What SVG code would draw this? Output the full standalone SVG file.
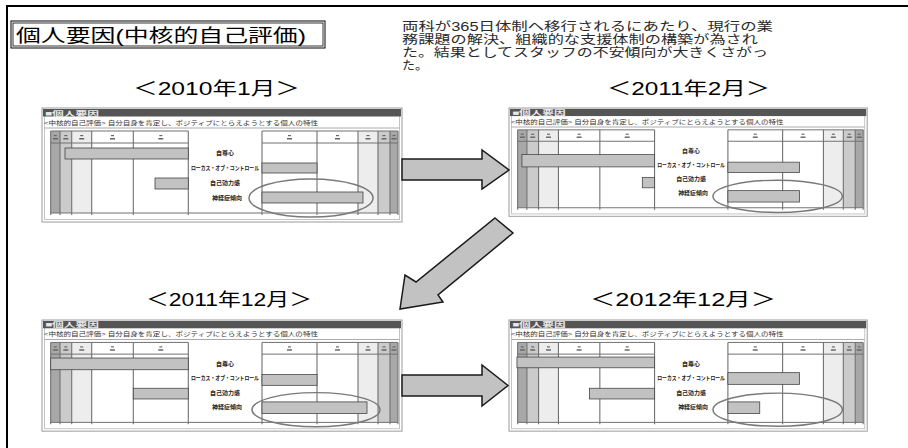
<svg xmlns="http://www.w3.org/2000/svg" xmlns:xlink="http://www.w3.org/1999/xlink" width="908" height="448" viewBox="0 0 908 448">
<style>
  .jp { font-family: "Liberation Sans", "Noto Sans CJK JP", sans-serif; }
  .title { font-size: 18px; fill: #000; }
  .date { font-size: 18px; fill: #000; }
  .para { font-size: 12px; fill: #2a2a2a; }
  .hdr { font-size: 7px; font-weight: bold; fill: #e8e8e8; }
  .sub { font-size: 6px; fill: #333; }
  .lbl { font-size: 6px; font-weight: bold; fill: #222; text-anchor: middle; }
  .vl { stroke: #707070; stroke-width: 1.1; }
  .hl { stroke: #707070; stroke-width: 1; }
  .bar { fill: #c2c2c2; stroke: #444; stroke-width: 0.8; }
  .ell { fill: none; stroke: #7a7a7a; stroke-width: 1.5; }
  .tick { fill: #666; }
  .arrow { fill: #c2c2c2; stroke: #1a1a1a; stroke-width: 1.5; stroke-linejoin: miter; }
</style>
<defs>
  <g id="chartFrame">
    <rect x="0" y="0" width="360" height="114" fill="#fff" stroke="#9a9a9a" stroke-width="1"/>
    <rect x="2.5" y="2.5" width="355" height="109" fill="none" stroke="#c4c4c4" stroke-width="1"/>
    <rect x="1" y="1" width="358" height="7.5" fill="#555"/>
    <text x="3" y="7.6" class="jp hdr" textLength="54" lengthAdjust="spacingAndGlyphs">■個人要因</text>
    <text x="2" y="16.5" class="jp sub" textLength="274" lengthAdjust="spacingAndGlyphs">&lt;中核的自己評価&gt; 自分自身を肯定し、ポジティブにとらえようとする個人の特性</text>
    <line x1="2.5" y1="20" x2="357.5" y2="20" stroke="#aaa" stroke-width="1"/>
    <rect x="8.7" y="23" width="9.3" height="82" fill="#a8a8a8"/>
    <rect x="18" y="23" width="11.7" height="82" fill="#cbcbcb"/>
    <rect x="29.7" y="23" width="20" height="82" fill="#ededed"/>
    <rect x="316" y="23" width="20" height="82" fill="#ededed"/>
    <rect x="336" y="23" width="12" height="82" fill="#cbcbcb"/>
    <rect x="348" y="23" width="8" height="82" fill="#a8a8a8"/>
    <line class="hl" x1="8.7" y1="23" x2="146.3" y2="23"/>
    <line class="hl" x1="220" y1="23" x2="356" y2="23"/>
    <line class="hl" x1="8.7" y1="35" x2="146.3" y2="35"/>
    <line class="hl" x1="220" y1="35" x2="356" y2="35"/>
    <line class="hl" x1="8.7" y1="105" x2="356" y2="105"/>
    <line class="vl" x1="8.7" y1="23" x2="8.7" y2="107"/>
    <line class="vl" x1="18" y1="23" x2="18" y2="107"/>
    <line class="vl" x1="29.7" y1="23" x2="29.7" y2="107"/>
    <line class="vl" x1="49.7" y1="23" x2="49.7" y2="107"/>
    <line class="vl" x1="91.3" y1="23" x2="91.3" y2="107"/>
    <line class="vl" x1="146.3" y1="23" x2="146.3" y2="107"/>
    <line class="vl" x1="220" y1="23" x2="220" y2="107"/>
    <line class="vl" x1="275" y1="23" x2="275" y2="107"/>
    <line class="vl" x1="316" y1="23" x2="316" y2="107"/>
    <line class="vl" x1="336" y1="23" x2="336" y2="107"/>
    <line class="vl" x1="348" y1="23" x2="348" y2="107"/>
    <line class="vl" x1="356" y1="23" x2="356" y2="107"/>
    <g class="tick">
      <rect x="11.8" y="27" width="3" height="1.2"/><rect x="11" y="30" width="5" height="1.5"/>
      <rect x="22.3" y="27" width="3" height="1.2"/><rect x="21.3" y="30" width="5" height="1.5"/>
      <rect x="38.2" y="27" width="3" height="1.2"/><rect x="37.2" y="30" width="5" height="1.5"/>
      <rect x="69" y="27" width="3" height="1.2"/><rect x="68" y="30" width="5" height="1.5"/>
      <rect x="117.3" y="27" width="3" height="1.2"/><rect x="116.3" y="30" width="5" height="1.5"/>
      <rect x="246" y="27" width="3" height="1.2"/><rect x="245" y="30" width="5" height="1.5"/>
      <rect x="294" y="27" width="3" height="1.2"/><rect x="293" y="30" width="5" height="1.5"/>
      <rect x="324.5" y="27" width="3" height="1.2"/><rect x="323.5" y="30" width="5" height="1.5"/>
      <rect x="340.5" y="27" width="3" height="1.2"/><rect x="339.5" y="30" width="5" height="1.5"/>
      <rect x="350.5" y="27" width="3" height="1.2"/><rect x="349.5" y="30" width="5" height="1.5"/>
    </g>
    <text class="jp lbl" x="183" y="47">自尊心</text>
    <text class="jp lbl" x="183" y="62" textLength="68" lengthAdjust="spacingAndGlyphs">ローカス・オブ・コントロール</text>
    <text class="jp lbl" x="183" y="77">自己効力感</text>
    <text class="jp lbl" x="185" y="91.5">神経症傾向</text>
  </g>
</defs>

<path d="M7,448 V6 H908" fill="none" stroke="#000" stroke-width="2"/>

<g id="title">
  <rect x="11" y="21" width="314" height="27" fill="#fff" stroke="#000" stroke-width="1"/>
  <rect x="13" y="23" width="310" height="23" fill="none" stroke="#000" stroke-width="0.8"/>
  <text class="jp title" x="16" y="42" textLength="290" lengthAdjust="spacingAndGlyphs">個人要因(中核的自己評価)</text>
</g>

<g id="note">
  <text class="jp para" x="402" y="30.5" textLength="371" lengthAdjust="spacingAndGlyphs">両科が365日体制へ移行されるにあたり、現行の業</text>
  <text class="jp para" x="402" y="43.5" textLength="356" lengthAdjust="spacingAndGlyphs">務課題の解決、組織的な支援体制の構築が為され</text>
  <text class="jp para" x="402" y="56.5" textLength="366" lengthAdjust="spacingAndGlyphs">た。結果としてスタッフの不安傾向が大きくさがっ</text>
  <text class="jp para" x="402" y="69.5" textLength="26" lengthAdjust="spacingAndGlyphs">た。</text>
</g>

<g id="label-2010-01"><text class="jp date" x="133" y="95" textLength="167" lengthAdjust="spacingAndGlyphs">＜2010年1月＞</text></g>
<g id="label-2011-02"><text class="jp date" x="607" y="95" textLength="163" lengthAdjust="spacingAndGlyphs">＜2011年2月＞</text></g>
<g id="label-2011-12"><text class="jp date" x="146" y="306" textLength="166" lengthAdjust="spacingAndGlyphs">＜2011年12月＞</text></g>
<g id="label-2012-12"><text class="jp date" x="590" y="306" textLength="186" lengthAdjust="spacingAndGlyphs">＜2012年12月＞</text></g>

<g id="chart-2010-01" transform="translate(42,108)">
  <use xlink:href="#chartFrame" href="#chartFrame"/>
  <rect class="bar" x="23" y="40" width="123.3" height="11"/>
  <rect class="bar" x="220" y="55" width="55" height="10"/>
  <rect class="bar" x="113" y="70" width="33.3" height="11"/>
  <rect class="bar" x="220" y="84" width="101" height="11"/>
  <ellipse class="ell" cx="269" cy="90" rx="62" ry="19"/>
</g>

<g id="chart-2011-02" transform="translate(509,108) scale(0.995,0.95)">
  <use xlink:href="#chartFrame" href="#chartFrame"/>
  <rect class="bar" x="13" y="49" width="133.3" height="13"/>
  <rect class="bar" x="220" y="57" width="72" height="11"/>
  <rect class="bar" x="134" y="73" width="12.3" height="11"/>
  <rect class="bar" x="220" y="87" width="72" height="12"/>
  <ellipse class="ell" cx="270" cy="93" rx="65" ry="17"/>
</g>

<g id="chart-2011-12" transform="translate(42,320) scale(1,0.975)">
  <use xlink:href="#chartFrame" href="#chartFrame"/>
  <rect class="bar" x="8.7" y="39" width="137.6" height="12"/>
  <rect class="bar" x="220" y="56" width="55" height="11"/>
  <rect class="bar" x="91.3" y="70" width="55" height="11"/>
  <rect class="bar" x="220" y="84" width="105" height="12"/>
  <ellipse class="ell" cx="274" cy="92" rx="64" ry="17.5"/>
</g>

<g id="chart-2012-12" transform="translate(509,320) scale(0.995,0.975)">
  <use xlink:href="#chartFrame" href="#chartFrame"/>
  <rect class="bar" x="8" y="38" width="138.3" height="11"/>
  <rect class="bar" x="220" y="54" width="72" height="12"/>
  <rect class="bar" x="81" y="70" width="65.3" height="11"/>
  <rect class="bar" x="220" y="84" width="32" height="12"/>
  <ellipse class="ell" cx="270" cy="92" rx="65" ry="17"/>
</g>

<g id="connectors">
  <polygon class="arrow" points="402,159 482,159 482,150 509,170 482,189 482,180 402,180"/>
  <polygon class="arrow" points="495,218 513,233 438,295 443,302 400,309 405,275 416,282"/>
  <polygon class="arrow" points="402,375 482,375 482,365 508,385.5 482,406 482,396 402,396"/>
</g>
</svg>
